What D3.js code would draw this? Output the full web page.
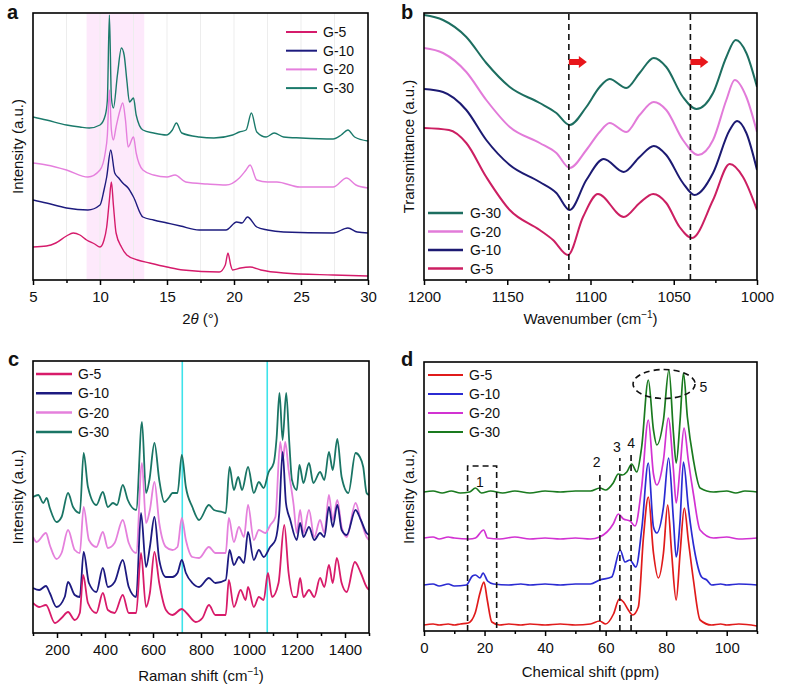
<!DOCTYPE html>
<html><head><meta charset="utf-8">
<script src="https://cdn.jsdelivr.net/npm/d3@7"></script>
<style>
body{margin:0;background:#fff}
svg{display:block}
text{font-family:"Liberation Sans",Arial,Helvetica,sans-serif;fill:#111}
</style>
</head><body>
<svg id="fig" width="800" height="687"></svg>
<script>
// ---------- DATA ----------
const seriesNames = ["G-5", "G-10", "G-20", "G-30"];

// (a) XRD: [2theta, intensity a.u.]
const xrdG5 = [[5,33],[6,34],[6.7,37],[7.5,44],[8,47],[8.5,45],[9,40],[9.6,36],[10,33],[10.3,40],[10.5,53],[10.7,80],[10.85,98],[11.0,75],[11.2,47],[11.6,33],[12,25],[12.8,20],[13.7,17],[15,13],[16.2,10],[18.9,8],[19.35,15],[19.55,27],[19.75,15],[19.9,10],[20.5,12],[21.2,13],[22,10],[23.7,7],[27.4,5],[30,4]];
const xrdG10 = [[5,80],[6,77],[7.5,72],[9.1,70],[10,75],[10.3,90],[10.5,103],[10.8,130],[11.1,107],[11.4,102],[11.7,97],[12.1,92],[12.5,83],[13.2,63],[14,60],[15,57],[16,54],[17.4,50],[19.4,50],[20.2,58],[20.6,57],[21.0,63],[21.7,53],[22.5,50],[23.7,48],[27.4,47],[28.5,52],[29.2,48],[30,47]];
const xrdG20 = [[5,117],[6,115],[7.5,110],[9.1,103],[10,110],[10.4,128],[10.55,145],[10.7,190],[10.85,150],[11.0,140],[11.2,153],[11.5,170],[11.7,177],[11.9,160],[12.1,133],[12.5,143],[12.7,127],[13.2,110],[14,105],[15,103],[15.6,105],[16.4,98],[18,96],[19.4,95],[20.4,102],[20.9,110],[21.2,115],[21.7,100],[22.5,98],[23.2,98],[24.9,93],[27.4,93],[28.4,102],[29.1,95],[30,92]];
const xrdG30 = [[5,163],[6,160],[7.5,155],[8.5,153],[9.2,152],[10,155],[10.4,165],[10.55,180],[10.7,265],[10.85,182],[11.0,172],[11.3,205],[11.6,232],[11.8,225],[12.0,200],[12.2,178],[12.5,182],[12.7,165],[13.2,150],[14,147],[14.95,145],[15.4,150],[15.7,157],[16.1,147],[17.4,143],[18.5,142],[19.9,145],[20.4,148],[20.9,150],[21.3,167],[21.7,148],[22.4,143],[23.0,147],[23.7,143],[25,142],[27.4,141],[28.0,145],[28.5,150],[29,143],[30,139]];
const xrdBand = [9.0, 13.3];
const xrdTicks = [5, 10, 15, 20, 25, 30];
const xrdMinor = [7.5, 12.5, 17.5, 22.5, 27.5];

// (b) FTIR: [wavenumber, transmittance a.u.]
const ftirG5 = [[1200,152],[1185,150],[1174.6,137],[1162.6,103],[1148.5,70],[1130.5,50],[1122.5,40],[1113.5,25],[1104.5,63],[1095.5,86],[1080,63],[1070.5,77],[1062.4,86],[1054.5,77],[1046.5,53],[1039,42],[1026.4,80],[1016.4,116],[1008.4,103],[1000,70]];
const ftirG10 = [[1200,191],[1188.6,188],[1174.6,170],[1162.6,140],[1148.5,115],[1130.5,98],[1120.5,87],[1112.5,70],[1102.5,100],[1092,121],[1080,108],[1070.5,123],[1062,134],[1054.5,125],[1044.5,97],[1037.5,85],[1026.4,107],[1016.4,150],[1012,159],[1006.4,147],[1000,110]];
const ftirG20 = [[1200,232],[1188.6,227],[1174.6,208],[1162.6,180],[1148.5,153],[1130.5,137],[1120.5,127],[1112.5,112],[1102.5,130],[1094.5,148],[1088.5,157],[1078.5,148],[1070.5,165],[1062,178],[1054.5,170],[1044.5,140],[1035.4,125],[1026.4,140],[1018.4,180],[1013.4,200],[1006.4,183],[1000,148]];
const ftirG30 = [[1200,265],[1188.6,260],[1174.6,243],[1162.6,217],[1148.5,193],[1130.5,177],[1120.5,167],[1112.5,155],[1102.5,173],[1094.5,193],[1088.5,201],[1078.5,192],[1070.5,207],[1062,222],[1054.5,213],[1044.5,183],[1036.4,171],[1026.4,187],[1018.4,223],[1012.8,240],[1006.4,227],[1000,193]];
const ftirDashed = [1113, 1040];
const ftirArrows = [[1113, 218], [1040, 218]];
const ftirTicks = [1200, 1150, 1100, 1050, 1000];
const ftirMinor = [1175, 1125, 1075, 1025];

// (c) Raman: [shift, intensity a.u.]
const ramanG5 = [[100,30],[126,26],[154,28],[191,10],[219,15],[246,21],[274,13],[295,20],[309,58],[329,30],[364,20],[391,40],[412,23],[440,20],[474,38],[499,20],[530,20],[550,80],[571,26],[587,40],[606,81],[626,50],[654,23],[681,18],[720,24],[740,20],[778,11],[806,15],[833,28],[860,18],[903,18],[916,53],[937,26],[965,43],[986,33],[996,46],[1020,26],[1041,36],[1061,33],[1079,60],[1096,36],[1123,50],[1147,108],[1165,60],[1186,36],[1199,36],[1213,55],[1227,36],[1250,43],[1272,36],[1296,55],[1314,46],[1333,68],[1349,50],[1366,75],[1386,50],[1407,41],[1441,71],[1466,60],[1490,46],[1500,43]];
const ramanG10 = [[100,45],[126,43],[154,47],[170,40],[198,26],[232,36],[246,51],[274,38],[295,36],[311,81],[333,50],[364,41],[391,65],[412,46],[440,51],[474,73],[499,46],[530,36],[550,120],[571,66],[587,86],[606,116],[626,73],[654,56],[681,56],[702,60],[720,73],[737,60],[764,50],[792,46],[833,55],[860,50],[903,53],[919,83],[937,68],[958,76],[979,70],[996,101],[1020,73],[1041,83],[1061,76],[1088,86],[1110,93],[1126,120],[1140,181],[1154,130],[1172,113],[1199,93],[1213,110],[1227,96],[1250,106],[1272,93],[1296,100],[1314,96],[1333,126],[1349,106],[1368,128],[1386,103],[1407,98],[1444,123],[1466,113],[1490,100],[1500,98]];
const ramanG20 = [[100,96],[115,91],[154,100],[170,88],[198,74],[219,80],[246,103],[274,83],[295,80],[311,126],[333,93],[364,86],[391,101],[412,85],[440,90],[474,113],[499,90],[530,80],[554,170],[571,110],[587,123],[606,151],[626,110],[654,86],[681,83],[702,86],[720,115],[737,93],[764,76],[792,75],[833,86],[860,80],[903,80],[916,115],[937,91],[958,106],[979,96],[996,128],[1020,93],[1041,103],[1068,100],[1089,108],[1110,116],[1130,191],[1141,173],[1151,191],[1165,163],[1186,128],[1199,100],[1213,123],[1227,100],[1250,123],[1272,96],[1296,113],[1314,100],[1333,138],[1349,113],[1368,133],[1386,106],[1407,96],[1444,130],[1466,113],[1490,96],[1500,93]];
const ramanG30 = [[100,136],[122,138],[143,130],[157,135],[170,125],[198,111],[219,116],[246,140],[267,126],[295,120],[311,180],[329,146],[364,128],[391,141],[412,126],[433,130],[450,128],[474,148],[495,133],[530,123],[554,211],[571,140],[585,153],[606,190],[626,153],[647,131],[668,136],[681,140],[702,140],[720,178],[737,146],[764,126],[792,113],[833,128],[854,123],[889,121],[903,120],[919,166],[937,143],[955,156],[971,143],[996,166],[1020,140],[1041,151],[1061,145],[1082,161],[1103,170],[1115,195],[1127,240],[1140,193],[1155,240],[1168,190],[1179,153],[1199,143],[1210,168],[1227,150],[1250,170],[1268,150],[1296,161],[1314,153],[1333,181],[1349,163],[1368,194],[1386,156],[1414,140],[1444,180],[1462,176],[1476,166],[1490,140],[1500,138]];
const ramanMarks = [722, 1076];
const ramanTicks = [200, 400, 600, 800, 1000, 1200, 1400];
const ramanMinor = [100, 300, 500, 700, 900, 1100, 1300, 1500];

// (d) NMR: [ppm, intensity a.u.]
const nmrG5 = [[0,6],[3,7],[5,6],[8,7],[10,6],[12,7],[14.6,8],[16.9,18],[18.5,38],[19.8,49],[20.9,31],[22.4,9],[25,6],[28,7],[32,6],[35,7],[40,6],[45,7],[50,6],[55,7],[58,10],[60,7],[62.6,17],[64.5,32],[65.9,29],[67.5,21],[68.9,16],[70.8,24],[72.5,94],[74.1,134],[75.8,78],[77.4,53],[79.1,78],[80.5,126],[81.8,78],[83.3,31],[84.6,78],[86,123],[87.3,91],[89,51],[91.2,11],[95,6],[98,7],[100,6],[104,7],[110,5]];
const nmrG10 = [[0,46],[3,47],[5,45],[8,47],[10,45],[14,46],[16,55],[17,56],[18.5,53],[19.5,58],[21,50],[23,47],[28,46],[32,47],[35,46],[40,47],[45,46],[50,47],[55,47],[58,51],[62,54],[64.8,81],[66.4,69],[68,71],[70,64],[72,104],[74.1,168],[75.8,104],[76.9,98],[79.1,124],[80.8,173],[82.4,111],[83.3,74],[84.6,111],[85.7,169],[87.3,124],[89.5,78],[91.7,54],[93.4,51],[95,46],[98,47],[100,46],[104,47],[110,46]];
const nmrG20 = [[0,93],[3,94],[5,92],[8,94],[10,93],[15,92],[17,93],[19.7,101],[21,93],[25,92],[30,94],[35,92],[40,93],[45,92],[50,93],[55,92],[58,94],[62.5,107],[64.2,117],[65.9,112],[68.1,110],[69.7,105],[71.9,144],[74.1,211],[75.8,157],[76.9,146],[79.1,171],[80.7,213],[82.4,161],[83.3,128],[84.6,164],[85.9,203],[87.3,171],[89,137],[91.2,101],[95.6,93],[100,94],[104,92],[110,93]];
const nmrG30 = [[0,139],[3,140],[6,138],[9,140],[12,138],[15,139],[17,143],[19,138],[22,140],[26,138],[30,140],[35,138],[40,140],[45,139],[50,140],[55,140],[58.1,143],[60,141],[62.5,148],[64.2,157],[65.5,156],[67,159],[68.6,167],[70.3,159],[71.9,184],[74.1,251],[75.8,201],[76.9,186],[79.1,211],[80.9,261],[82.4,198],[83.3,168],[84.6,211],[85.7,258],[87,214],[89,171],[91.2,143],[95.6,139],[100,140],[103,138],[106,140],[110,139]];
const nmrBox = [14.4, 24.0, 165];
const nmrLines = [[58.1, 159, "2", 57.0, 169], [64.7, 173, "3", 63.7, 184], [68.4, 179, "4", 68.4, 188]];
const nmrBoxLabel = ["1", 18.5, 149];
const nmrEllipse = [79.3, 247, "5", 92.3, 244];
const nmrTicks = [0, 20, 40, 60, 80, 100];
const nmrMinor = [10, 30, 50, 70, 90, 110];

// ---------- DRAWING ----------
const svg = d3.select("#fig");
const defs = svg.append("defs");
let clipId = 0;

function panel(cfg) {
  const g = svg.append("g");
  const x = d3.scaleLinear().domain(cfg.xDomain).range([cfg.left, cfg.right]);
  const y = d3.scaleLinear().domain(cfg.yDomain).range([cfg.bottom, cfg.top]);
  const id = "clip" + (clipId++);
  defs.append("clipPath").attr("id", id).append("rect")
    .attr("x", cfg.left).attr("y", cfg.top)
    .attr("width", cfg.right - cfg.left).attr("height", cfg.bottom - cfg.top);
  const inner = g.append("g").attr("clip-path", `url(#${id})`);
  if (cfg.under) cfg.under(inner, x, y);
  const line = d3.line().x(d => x(d[0])).y(d => y(d[1])).curve(d3.curveMonotoneX);
  cfg.series.forEach(s => {
    inner.append("path").datum(s.data).attr("d", line)
      .attr("fill", "none").attr("stroke", s.color)
      .attr("stroke-width", cfg.lineWidth).attr("stroke-linejoin", "round");
  });
  if (cfg.over) cfg.over(g, x, y);
  const ax = g.append("g").attr("transform", `translate(0,${cfg.bottom})`)
    .call(d3.axisBottom(x).tickValues(cfg.ticks).tickSize(5).tickPadding(6).tickFormat(d3.format("d")));
  ax.select(".domain").remove();
  ax.selectAll("line").attr("stroke", "#000").attr("stroke-width", 1.5);
  ax.selectAll("text").attr("font-size", 15).attr("fill", "#111")
    .style("font-family", '"Liberation Sans",Arial,sans-serif');
  const axm = g.append("g").attr("transform", `translate(0,${cfg.bottom})`)
    .call(d3.axisBottom(x).tickValues(cfg.minor).tickSize(3).tickFormat(""));
  axm.select(".domain").remove();
  axm.selectAll("line").attr("stroke", "#000").attr("stroke-width", 1.5);
  g.append("rect").attr("x", cfg.left).attr("y", cfg.top)
    .attr("width", cfg.right - cfg.left).attr("height", cfg.bottom - cfg.top)
    .attr("fill", "none").attr("stroke", "#000").attr("stroke-width", 1.6);
  g.append("text").attr("x", cfg.letterX).attr("y", cfg.letterY)
    .attr("font-size", 20).attr("font-weight", "bold").text(cfg.letter);
  const xt = g.append("text").attr("x", (cfg.left + cfg.right) / 2).attr("y", cfg.xTitleY)
    .attr("text-anchor", "middle").attr("font-size", 15);
  cfg.xTitle(xt);
  g.append("text").attr("transform", `translate(${cfg.yTitleX},${(cfg.top + cfg.bottom) / 2}) rotate(-90)`)
    .attr("text-anchor", "middle").attr("font-size", 15).text(cfg.yTitle);
  cfg.legend.items.forEach((it, i) => {
    const ly = cfg.legend.y0 + i * cfg.legend.dy;
    g.append("line").attr("x1", cfg.legend.x0).attr("x2", cfg.legend.x1)
      .attr("y1", ly).attr("y2", ly).attr("stroke", it.color).attr("stroke-width", cfg.legend.w);
    g.append("text").attr("x", cfg.legend.tx).attr("y", ly + 5).attr("font-size", 14).text(it.name);
  });
}

function cmTitle(label) {
  return t => {
    t.append("tspan").text(label + " (cm");
    t.append("tspan").attr("dy", -6).attr("font-size", 10).text("\u22121");
    t.append("tspan").attr("dy", 6).text(")");
  };
}

// Panel a
const colA = { "G-5": "#d51b6b", "G-10": "#1d1b7e", "G-20": "#e57fdd", "G-30": "#1b7a6b" };
panel({
  left: 33, right: 368, top: 13, bottom: 280,
  xDomain: [5, 30], yDomain: [0, 267],
  ticks: xrdTicks, minor: xrdMinor, lineWidth: 1.4,
  letter: "a", letterX: 7, letterY: 19,
  xTitleY: 324, yTitleX: 23, yTitle: "Intensity (a.u.)",
  xTitle: t => { t.append("tspan").text("2"); t.append("tspan").attr("font-style", "italic").text("\u03b8"); t.append("tspan").text(" (\u00b0)"); },
  under: (g, x, y) => {
    g.append("rect").attr("x", x(xrdBand[0])).attr("y", y(267))
      .attr("width", x(xrdBand[1]) - x(xrdBand[0])).attr("height", y(0) - y(267))
      .attr("fill", "#fde9fb");
    xrdMinor.concat(xrdTicks.slice(1, -1)).forEach(v => {
      g.append("line").attr("x1", x(v)).attr("x2", x(v)).attr("y1", y(0)).attr("y2", y(267))
        .attr("stroke", "#ededed").attr("stroke-width", 1);
    });
  },
  series: [
    { data: xrdG30, color: colA["G-30"] },
    { data: xrdG20, color: colA["G-20"] },
    { data: xrdG10, color: colA["G-10"] },
    { data: xrdG5, color: colA["G-5"] }
  ],
  legend: { x0: 286, x1: 317, tx: 323, y0: 32, dy: 18.7, w: 2,
    items: seriesNames.map(n => ({ name: n, color: colA[n] })) }
});

// Panel b
const colB = { "G-5": "#cc1f62", "G-10": "#1c1a72", "G-20": "#e27bd9", "G-30": "#1d6e60" };
panel({
  left: 424, right: 757, top: 13, bottom: 280,
  xDomain: [1200, 1000], yDomain: [0, 267],
  ticks: ftirTicks, minor: ftirMinor, lineWidth: 2,
  letter: "b", letterX: 401, letterY: 19,
  xTitleY: 324, yTitleX: 414, yTitle: "Transmittance (a.u.)",
  xTitle: cmTitle("Wavenumber"),
  over: (g, x, y) => {
    ftirDashed.forEach(v => {
      g.append("line").attr("x1", x(v)).attr("x2", x(v)).attr("y1", y(0)).attr("y2", y(267))
        .attr("stroke", "#111").attr("stroke-width", 1.6).attr("stroke-dasharray", "6,4");
    });
    ftirArrows.forEach(a => {
      const sx = x(a[0]), sy = y(a[1]);
      g.append("path")
        .attr("d", `M${sx},${sy - 3}L${sx + 10},${sy - 3}L${sx + 10},${sy - 6}L${sx + 18},${sy}L${sx + 10},${sy + 6}L${sx + 10},${sy + 3}L${sx},${sy + 3}Z`)
        .attr("fill", "#e8161b");
    });
  },
  series: [
    { data: ftirG30, color: colB["G-30"] },
    { data: ftirG20, color: colB["G-20"] },
    { data: ftirG10, color: colB["G-10"] },
    { data: ftirG5, color: colB["G-5"] }
  ],
  legend: { x0: 428, x1: 463, tx: 470, y0: 213, dy: 18.5, w: 2.5,
    items: ["G-30", "G-20", "G-10", "G-5"].map(n => ({ name: n, color: colB[n] })) }
});

// Panel c
const colC = { "G-5": "#d81b6a", "G-10": "#1d1a80", "G-20": "#e580dc", "G-30": "#1a7565" };
panel({
  left: 33, right: 369, top: 361, bottom: 633,
  xDomain: [100, 1500], yDomain: [0, 272],
  ticks: ramanTicks, minor: ramanMinor, lineWidth: 1.8,
  letter: "c", letterX: 8, letterY: 366,
  xTitleY: 681, yTitleX: 23, yTitle: "Intensity (a.u.)",
  xTitle: cmTitle("Raman shift"),
  under: (g, x, y) => {
    ramanMarks.forEach(v => {
      g.append("line").attr("x1", x(v)).attr("x2", x(v)).attr("y1", y(0)).attr("y2", y(272))
        .attr("stroke", "#3ee3ea").attr("stroke-width", 1.6);
    });
  },
  series: [
    { data: ramanG30, color: colC["G-30"] },
    { data: ramanG20, color: colC["G-20"] },
    { data: ramanG10, color: colC["G-10"] },
    { data: ramanG5, color: colC["G-5"] }
  ],
  legend: { x0: 36, x1: 72, tx: 78, y0: 374, dy: 19.3, w: 2.5,
    items: seriesNames.map(n => ({ name: n, color: colC[n] })) }
});

// Panel d
const colD = { "G-5": "#e01b1b", "G-10": "#2b2bd2", "G-20": "#d232d2", "G-30": "#1a7a1f" };
panel({
  left: 424, right: 757, top: 362, bottom: 631,
  xDomain: [0, 110], yDomain: [0, 269],
  ticks: nmrTicks, minor: nmrMinor, lineWidth: 1.7,
  letter: "d", letterX: 401, letterY: 366,
  xTitleY: 677, yTitleX: 414, yTitle: "Intensity (a.u.)",
  xTitle: t => t.text("Chemical shift (ppm)"),
  series: [
    { data: nmrG30, color: colD["G-30"] },
    { data: nmrG20, color: colD["G-20"] },
    { data: nmrG10, color: colD["G-10"] },
    { data: nmrG5, color: colD["G-5"] }
  ],
  over: (g, x, y) => {
    const dash = sel => sel.attr("fill", "none").attr("stroke", "#111").attr("stroke-width", 1.6).attr("stroke-dasharray", "6,4");
    g.append("path").attr("d", `M${x(nmrBox[0])},${y(0)}L${x(nmrBox[0])},${y(nmrBox[2])}L${x(nmrBox[1])},${y(nmrBox[2])}L${x(nmrBox[1])},${y(0)}`).call(dash);
    g.append("text").attr("x", x(nmrBoxLabel[1])).attr("y", y(nmrBoxLabel[2]) + 5).attr("text-anchor", "middle").attr("font-size", 14).text(nmrBoxLabel[0]);
    nmrLines.forEach(l => {
      g.append("line").attr("x1", x(l[0])).attr("x2", x(l[0])).attr("y1", y(0)).attr("y2", y(l[1])).call(dash);
      g.append("text").attr("x", x(l[3])).attr("y", y(l[4]) + 5).attr("text-anchor", "middle").attr("font-size", 14).text(l[2]);
    });
    g.append("ellipse").attr("cx", x(nmrEllipse[0])).attr("cy", y(nmrEllipse[1])).attr("rx", 31).attr("ry", 14.5).call(dash);
    g.append("text").attr("x", x(nmrEllipse[3])).attr("y", y(nmrEllipse[4]) + 5).attr("text-anchor", "middle").attr("font-size", 14).text(nmrEllipse[2]);
  },
  legend: { x0: 428, x1: 463, tx: 469, y0: 375, dy: 19, w: 2,
    items: seriesNames.map(n => ({ name: n, color: colD[n] })) }
});
</script>
</body></html>
